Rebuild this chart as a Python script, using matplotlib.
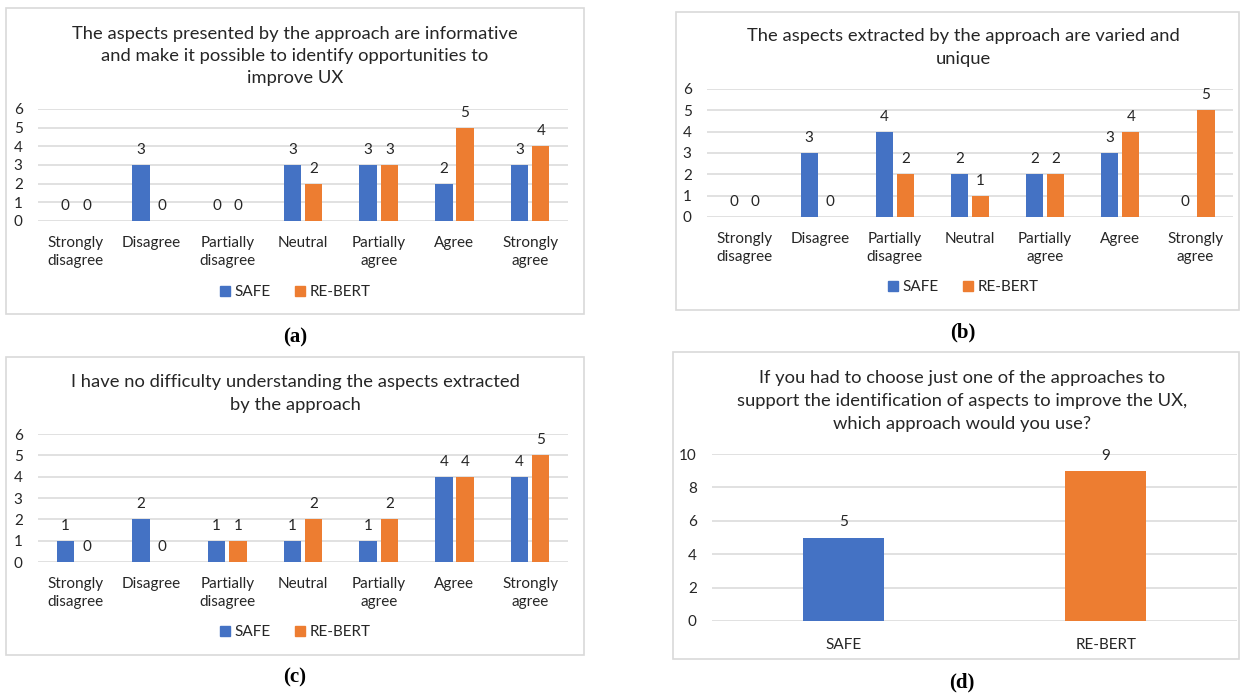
import matplotlib
matplotlib.use("Agg")
import matplotlib.pyplot as plt
from matplotlib.patches import Rectangle, Patch

W, H = 1243, 695

# likert categories shared by panels a-c
categories = ["Strongly\ndisagree", "Disagree", "Partially\ndisagree", "Neutral",
              "Partially\nagree", "Agree", "Strongly\nagree"]
series_names = ["SAFE", "RE-BERT"]

# (a) informative aspects
safe_a = [0, 3, 0, 3, 3, 2, 3]
rebert_a = [0, 0, 0, 2, 3, 5, 4]
# (b) varied and unique
safe_b = [0, 3, 4, 2, 2, 3, 0]
rebert_b = [0, 0, 2, 1, 2, 4, 5]
# (c) no difficulty understanding
safe_c = [1, 2, 1, 1, 1, 4, 4]
rebert_c = [0, 0, 1, 2, 2, 4, 5]
# (d) preferred approach
choice_labels = ["SAFE", "RE-BERT"]
choice_votes = [5, 9]

title_a = "The aspects presented by the approach are informative\nand make it possible to identify opportunities to\nimprove UX"
title_b = "The aspects extracted by the approach are varied and\nunique"
title_c = "I have no difficulty understanding the aspects extracted\nby the approach"
title_d = "If you had to choose just one of the approaches to\nsupport the identification of aspects to improve the UX,\nwhich approach would you use?"

BLUE = "#4472C4"
ORANGE = "#ED7D31"
GRID = "#D9D9D9"
TXT = "#262626"
FONT = "Lato"

plt.rcParams["font.family"] = [FONT, "DejaVu Sans"]

fig = plt.figure(figsize=(W / 100, H / 100), dpi=100)
fig.patch.set_facecolor("white")


def rect(x0, y0, x1, y1):
    return [x0 / W, 1 - y1 / H, (x1 - x0) / W, (y1 - y0) / H]


def fx(x):
    return x / W


def fy(y):
    return 1 - y / H


def frame(x0, y0, x1, y1):
    fig.patches.append(Rectangle((fx(x0), fy(y1)), (x1 - x0) / W, (y1 - y0) / H,
                                 transform=fig.transFigure, fill=False,
                                 edgecolor=GRID, linewidth=1.2))


def style_axes(ax, ymax, step):
    ax.set_ylim(0, ymax)
    ax.set_yticks(range(0, ymax + 1, step))
    ax.grid(axis="y", color=GRID, linewidth=1.1)
    ax.set_axisbelow(True)
    for s in ax.spines.values():
        s.set_visible(False)
    ax.tick_params(length=0, colors=TXT, labelsize=11)
    ax.tick_params(axis="y", pad=11)


def value_labels(ax, xs, vals):
    for x, v in zip(xs, vals):
        ax.annotate(str(v), (x, v), xytext=(0, 15), textcoords="offset pixels",
                    ha="center", va="center", fontsize=11, color=TXT)


def likert_panel(box, axbox, title_y, title_x, legend_y, caption_y, title, safe, rebert, cap):
    frame(*box)
    ax = fig.add_axes(rect(*axbox))
    xs = range(len(categories))
    w = 0.23
    off = 0.14
    xa = [x - off for x in xs]
    xb = [x + off for x in xs]
    ax.bar(xa, safe, width=w, color=BLUE)
    ax.bar(xb, rebert, width=w, color=ORANGE)
    style_axes(ax, 6, 1)
    ax.set_xlim(-0.5, len(categories) - 0.5)
    ax.set_xticks(list(xs))
    ax.set_xticklabels(categories, linespacing=1.3)
    ax.tick_params(axis="x", pad=11)
    value_labels(ax, xa, safe)
    value_labels(ax, xb, rebert)
    fig.text(fx(title_x), fy(title_y), title, ha="center", va="top",
             fontsize=13.2, color=TXT, linespacing=1.5)
    handles = [Patch(color=BLUE, label=series_names[0]),
               Patch(color=ORANGE, label=series_names[1])]
    fig.legend(handles=handles, loc="center", bbox_to_anchor=(fx(title_x), fy(legend_y)),
               ncol=2, frameon=False, handlelength=0.65, handleheight=0.65,
               handletextpad=0.3, columnspacing=1.6, fontsize=11,
               labelcolor=TXT)
    fig.text(fx(title_x), fy(caption_y), cap, ha="center", va="center",
             fontsize=15, fontweight="bold", family="Liberation Serif")


likert_panel((6, 8, 584, 314), (38, 109, 568, 221), 25.5, 295, 292, 337,
             title_a, safe_a, rebert_a, "(a)")
likert_panel((676, 12, 1239, 310), (707, 89, 1233, 217), 28.5, 963, 287, 332,
             title_b, safe_b, rebert_b, "(b)")
likert_panel((6, 357, 584, 655), (38, 434, 568, 562), 374.5, 295, 632, 677,
             title_c, safe_c, rebert_c, "(c)")

# (d) single-question bar chart
frame(673, 352, 1239, 659)
axd = fig.add_axes(rect(712, 454, 1237, 621))
axd.bar(range(len(choice_votes)), choice_votes, width=0.31, color=[BLUE, ORANGE])
style_axes(axd, 10, 2)
axd.set_xlim(-0.5, len(choice_votes) - 0.5)
axd.set_xticks(range(len(choice_votes)))
axd.set_xticklabels(choice_labels)
axd.tick_params(axis="x", pad=12)
value_labels(axd, range(len(choice_votes)), choice_votes)
fig.text(fx(962), fy(370.5), title_d, ha="center", va="top",
         fontsize=13.2, color=TXT, linespacing=1.5)
fig.text(fx(962), fy(682), "(d)", ha="center", va="center",
         fontsize=15, fontweight="bold", family="Liberation Serif")

fig.savefig("out.png", dpi=100)
